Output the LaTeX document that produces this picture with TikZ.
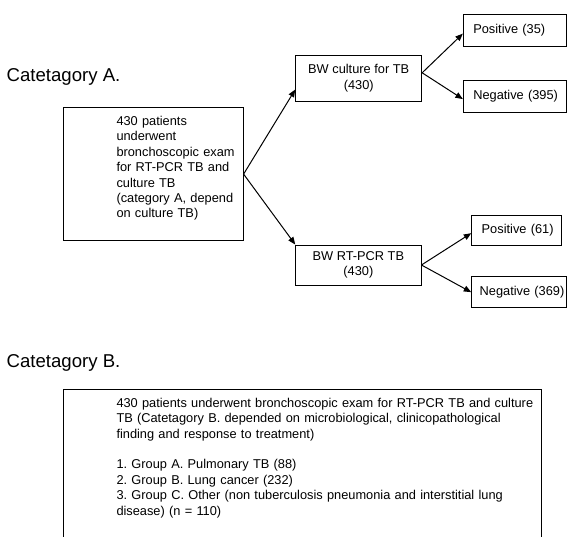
\documentclass[tikz,border=0pt]{standalone}
\usepackage{fontspec}
\setmainfont{Liberation Sans}
\usetikzlibrary{arrows.meta,calc}
\frenchspacing
\begin{document}
\begin{tikzpicture}[x=1pt,y=-1pt,
  box/.style={draw,line width=0.9pt,rectangle,inner sep=0pt},
  txt/.style={font=\fontsize{12.8}{15.4}\selectfont},
  lbox/.style={box,txt,align=left,inner xsep=10pt,inner ysep=0pt},
  arr/.style={line width=1pt,-{Triangle[length=7.5pt,width=6pt]}},
  ttl/.style={font=\fontsize{18.6}{22}\selectfont,inner sep=0pt,anchor=base west}]
\useasboundingbox (0,0) rectangle (567,537);
% Category A
\node[ttl] (catA) at (6.5,81.7) {Catetagory A.};
\node[box,minimum width=179.4pt,minimum height=132.7pt,anchor=north west] (main) at (63.3,107.3) {};
\node[txt,inner sep=0pt,anchor=base west,text width=130pt,align=left] (mainT) at (116.3,125.6)
  {430 patients\\underwent\\bronchoscopic exam\\for RT-PCR TB and\\culture TB\\(category A, depend\\on culture TB)};
\node[box,txt,align=center,minimum width=126pt,minimum height=46.7pt] (bwc) at (358.7,78.35) {BW culture for TB\\(430)};
\node[box,txt,align=center,minimum width=125.3pt,minimum height=40pt] (bwr) at (358.35,265) {BW RT-PCR TB\\(430)};
\node[lbox,text width=83.4pt,minimum height=32pt] (pos35) at (515,30) {\mbox{Positive (35)}};
\node[lbox,text width=83.2pt,minimum height=32.7pt] (neg395) at (514.9,96.35) {\mbox{Negative (395)}};
\node[lbox,text width=70pt,minimum height=30pt] (pos61) at (516.7,230) {\mbox{Positive (61)}};
\node[lbox,inner xsep=8pt,text width=78.8pt,minimum height=31pt] (neg369) at (519.1,292.2) {\mbox{Negative (369)}};
\draw[arr] (main.east) -- (bwc.190);
\draw[arr] (main.east) -- (bwr.north west);
\draw[arr] (bwc.5) -- (pos35.184);
\draw[arr] (bwc.5) -- (neg395.183);
\draw[arr] (bwr.east) -- (pos61.184);
\draw[arr] (bwr.east) -- (neg369.west);
% Category B
\node[ttl] (catB) at (6.5,367.7) {Catetagory B.};
\node[box,minimum width=477.4pt,minimum height=170pt,anchor=north west] (boxB) at (63.3,389.3) {};
\node[txt,inner sep=0pt,anchor=base west,text width=440pt,align=left] (boxBT) at (116.3,407.3)
  {430 patients underwent bronchoscopic exam for RT-PCR TB and culture\\
   TB (Catetagory B. depended on microbiological, clinicopathological\\
   finding and response to treatment)\\[15.4pt]
   1. Group A. Pulmonary TB (88)\\
   2. Group B. Lung cancer (232)\\
   3. Group C. Other (non tuberculosis pneumonia and interstitial lung\\
   disease) (n = 110)};
\end{tikzpicture}
\end{document}
